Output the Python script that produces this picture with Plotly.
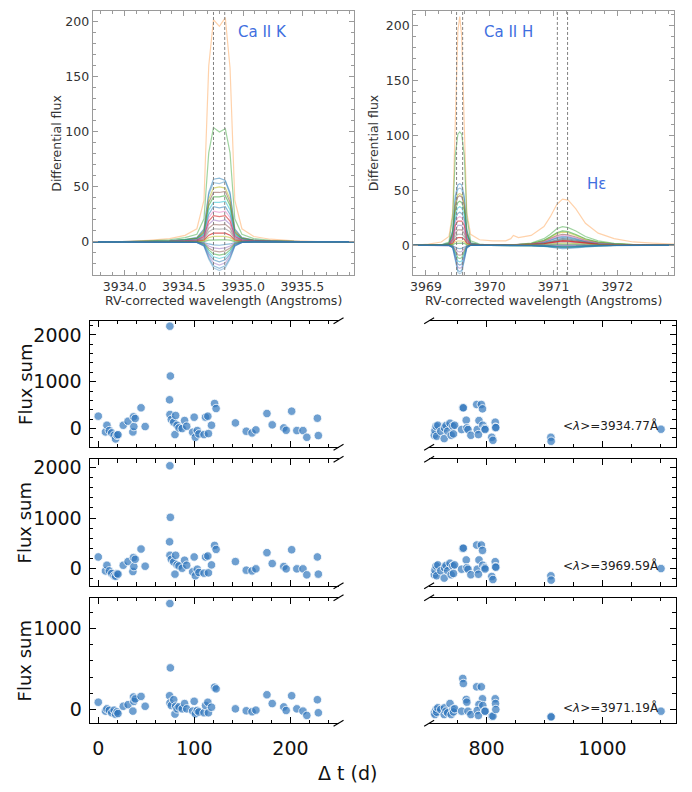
import plotly.graph_objects as go

W, H = 692, 792

# ---------------- spectra: Ca II K panel ----------------
k_wave = [3933.73, 3934.0, 3934.2, 3934.38, 3934.51, 3934.61, 3934.67, 3934.71, 3934.75, 3934.80,
          3934.85, 3934.89, 3934.93, 3934.99, 3935.09, 3935.23, 3935.43, 3935.63, 3935.94]
k_spectra = [
    [0, 0.3, 1.5, 3, 6, 12, 38, 160, 202, 196, 204, 158, 38, 12, 5, 2.5, 1, 0.3, 0],
    [0, 0, 1, 2, 4, 7, 21, 81, 104, 100, 103, 81, 21, 7, 3, 1.5, 0.5, 0, 0],
    [0, 0, 0.6, 1.2, 2.3, 4, 12, 45, 57, 58, 56, 45, 12, 4, 1.7, 0.9, 0.3, 0, 0],
    [0, 0, 0.5, 1, 2, 4, 11, 43, 54, 53, 55, 43, 11, 4, 1.6, 0.8, 0.3, 0, 0],
    [0, 0, 0.5, 1, 2, 3.5, 10, 39, 49, 50, 49, 39, 10, 3.5, 1.5, 0.7, 0.2, 0, 0],
    [0, 0, 0.5, 0.9, 1.8, 3.2, 9, 36, 45, 45, 46, 36, 9, 3.2, 1.4, 0.7, 0.2, 0, 0],
    [0, 0, 0.4, 0.8, 1.7, 3, 8, 33, 41, 41, 42, 33, 8, 3, 1.2, 0.6, 0.2, 0, 0],
    [0, 0, 0.4, 0.7, 1.5, 2.6, 7, 29, 36, 36, 37, 29, 7, 2.6, 1.1, 0.5, 0.2, 0, 0],
    [0, 0, 0.3, 0.6, 1.3, 2.2, 6, 25, 32, 31, 32, 25, 6, 2.2, 1, 0.5, 0.2, 0, 0],
    [0, 0, 0.3, 0.6, 1.1, 2, 5.6, 22, 28, 27, 28, 22, 5.6, 2, 0.8, 0.4, 0.1, 0, 0],
    [0, 0, 0.2, 0.5, 1, 1.7, 4.8, 19, 24, 23, 24, 19, 4.8, 1.7, 0.7, 0.4, 0.1, 0, 0],
    [0, 0, 0.2, 0.4, 0.8, 1.4, 4, 16, 20, 19, 20, 16, 4, 1.4, 0.6, 0.3, 0.1, 0, 0],
    [0, 0, 0.2, 0.3, 0.6, 1.1, 3.2, 12.5, 16, 15.5, 16, 12.5, 3.2, 1.1, 0.5, 0.2, 0, 0, 0],
    [0, 0, 0.1, 0.2, 0.5, 0.8, 2.4, 9.4, 12, 11.6, 12, 9.4, 2.4, 0.8, 0.4, 0.2, 0, 0, 0],
    [0, 0, 0.1, 0.2, 0.3, 0.6, 1.6, 6.2, 8, 7.8, 8, 6.2, 1.6, 0.6, 0.2, 0.1, 0, 0, 0],
    [0, 0, 0, 0.1, 0.2, 0.4, 1, 3.9, 5, 4.9, 5, 3.9, 1, 0.4, 0.2, 0, 0, 0, 0],
    [0, 0, 0, 0, 0.1, 0.1, 0.4, 1.6, 2, 1.9, 2, 1.6, 0.4, 0.1, 0, 0, 0, 0, 0],
    [0, 0, 0, 0, 0, 0, -0.5, -1.8, -2.7, -3, -2.7, -1.8, -0.5, 0, 0, 0, 0, 0, 0],
    [0, 0, 0, 0, 0, -0.1, -0.9, -3.6, -5.4, -6, -5.4, -3.6, -0.9, -0.1, 0, 0, 0, 0, 0],
    [0, 0, 0, 0, 0, -0.2, -1.4, -5.4, -8.1, -9, -8.1, -5.4, -1.4, -0.2, 0, 0, 0, 0, 0],
    [0, 0, 0, 0, 0, -0.2, -1.8, -7.2, -10.8, -12, -10.8, -7.2, -1.8, -0.2, 0, 0, 0, 0, 0],
    [0, 0, 0, 0, 0, -0.3, -2.3, -9, -13.5, -15, -13.5, -9, -2.3, -0.3, 0, 0, 0, 0, 0],
    [0, 0, 0, 0, 0, -0.4, -2.7, -10.8, -16.2, -18, -16.2, -10.8, -2.7, -0.4, 0, 0, 0, 0, 0],
    [0, 0, 0, 0, 0, -0.4, -3.2, -12.6, -18.9, -21, -18.9, -12.6, -3.2, -0.4, 0, 0, 0, 0, 0],
    [0, 0, 0, 0, 0, -0.5, -3.6, -14.4, -21.6, -24, -21.6, -14.4, -3.6, -0.5, 0, 0, 0, 0, 0],
    [0, 0, 0, 0, 0, -0.5, -3.9, -15.6, -23.4, -26, -23.4, -15.6, -3.9, -0.5, 0, 0, 0, 0, 0],
]
k_window = [3934.75, 3934.845]

# ---------------- spectra: Ca II H / H-epsilon panel ----------------
h_wave = [3968.80, 3969.04, 3969.24, 3969.36, 3969.42, 3969.46, 3969.50, 3969.53, 3969.56, 3969.60,
          3969.64, 3969.70, 3969.84, 3970.05, 3970.25, 3970.33, 3970.37, 3970.45, 3970.65, 3970.85,
          3970.95, 3971.05, 3971.14, 3971.23, 3971.35, 3971.50, 3971.70, 3971.95, 3972.25, 3972.55, 3972.89]
h_spectra = [
    [0, 1, 3, 8, 30, 110, 195, 208, 190, 110, 30, 10, 5, 4, 4, 6, 9, 7, 9, 17, 26, 37, 42, 41, 33, 20, 11, 6, 3, 2, 1],
    [0, 0, 0.5, 3, 26, 82, 101, 103, 101, 82, 26, 4, 1, 0, 0.3, 0.5, 0.7, 0.9, 2, 6, 10, 15, 17, 16, 13, 8, 4, 1.7, 0.7, 0.2, 0],
    [0, 0, 0.3, 1.7, 14, 45, 55, 56, 55, 45, 14, 2.2, 0.6, 0, 0.2, 0.2, 0.3, 0.4, 1, 2.8, 4.8, 7, 8, 7.6, 6, 3.6, 1.8, 0.8, 0.3, 0.1, 0],
    [0, 0, 0.3, 1.6, 13, 42, 51, 52, 51, 42, 13, 2, 0.5, 0, 0.1, 0.2, 0.2, 0.3, 0.7, 2.1, 3.6, 5.3, 6, 5.7, 4.5, 2.7, 1.3, 0.6, 0.2, 0.1, 0],
    [0, 0, 0.2, 1.4, 12, 38, 46, 47, 46, 38, 12, 1.9, 0.5, 0, 0.2, 0.4, 0.5, 0.6, 1.4, 4.2, 7.2, 10.6, 12, 11.4, 9, 5.4, 2.6, 1.2, 0.5, 0.1, 0],
    [0, 0, 0.2, 1.4, 11, 36, 44, 45, 44, 36, 11, 1.8, 0.5, 0, 0.2, 0.3, 0.4, 0.5, 1.2, 3.5, 6, 8.8, 10, 9.5, 7.5, 4.5, 2.2, 1, 0.4, 0.1, 0],
    [0, 0, 0.2, 1.2, 10, 32, 39, 40, 39, 32, 10, 1.6, 0.4, 0, 0.3, 0.4, 0.5, 0.7, 1.6, 4.6, 7.8, 11.4, 13, 12.4, 9.8, 5.9, 2.9, 1.3, 0.5, 0.1, 0],
    [0, 0, 0.2, 1, 9, 28, 34, 35, 34, 28, 9, 1.4, 0.4, 0, 0.1, 0.2, 0.2, 0.3, 0.6, 1.8, 3, 4.4, 5, 4.8, 3.8, 2.3, 1.1, 0.5, 0.2, 0, 0],
    [0, 0, 0.2, 0.9, 7.5, 24, 29, 30, 29, 24, 7.5, 1.2, 0.3, 0, 0.1, 0.2, 0.3, 0.4, 0.8, 2.5, 4.2, 6.2, 7, 6.7, 5.3, 3.2, 1.5, 0.7, 0.3, 0.1, 0],
    [0, 0, 0.1, 0.8, 6.5, 21, 25, 26, 25, 21, 6.5, 1, 0.3, 0, 0.2, 0.3, 0.4, 0.5, 1.1, 3.2, 5.4, 7.9, 9, 8.6, 6.8, 4, 2, 0.9, 0.4, 0.1, 0],
    [0, 0, 0.1, 0.7, 5.5, 18, 22, 22, 22, 18, 5.5, 0.9, 0.2, 0, 0.1, 0.1, 0.2, 0.2, 0.5, 1.4, 2.4, 3.5, 4, 3.8, 3, 1.8, 0.9, 0.4, 0.2, 0, 0],
    [0, 0, 0.1, 0.5, 4.5, 14, 18, 18, 18, 14, 4.5, 0.7, 0.2, 0, 0, 0.1, 0.1, 0.2, 0.4, 1, 1.8, 2.6, 3, 2.9, 2.3, 1.4, 0.7, 0.3, 0.1, 0, 0],
    [0, 0, 0.1, 0.4, 3.5, 11, 14, 14, 14, 11, 3.5, 0.6, 0.1, 0, 0.1, 0.2, 0.2, 0.3, 0.6, 1.8, 3, 4.4, 5, 4.8, 3.8, 2.3, 1.1, 0.5, 0.2, 0, 0],
    [0, 0, 0, 0.3, 2.5, 8, 10, 10, 10, 8, 2.5, 0.4, 0.1, 0, 0.1, 0.2, 0.2, 0.3, 0.7, 2.1, 3.6, 5.3, 6, 5.7, 4.5, 2.7, 1.3, 0.6, 0.2, 0.1, 0],
    [0, 0, 0, 0.2, 1.8, 5.6, 6.9, 7, 6.9, 5.6, 1.8, 0.3, 0.1, 0, 0.1, 0.1, 0.2, 0.2, 0.5, 1.4, 2.4, 3.5, 4, 3.8, 3, 1.8, 0.9, 0.4, 0.2, 0, 0],
    [0, 0, 0, 0.1, 1, 3.2, 3.9, 4, 3.9, 3.2, 1, 0.2, 0, 0, 0, 0.1, 0.1, 0.1, 0.2, 0.7, 1.2, 1.8, 2, 1.9, 1.5, 0.9, 0.4, 0.2, 0.1, 0, 0],
    [0, 0, 0, 0, 0.5, 1.6, 2, 2, 2, 1.6, 0.5, 0, 0, 0, 0, 0, 0, 0, 0.1, 0.4, 0.6, 0.9, 1, 1, 0.8, 0.5, 0.2, 0.1, 0, 0, 0],
    [0, 0, 0, 0, -0.3, -1.7, -2.9, -3, -2.9, -1.7, -0.3, 0, 0, 0, 0, 0, 0, 0, -0.1, -0.4, -0.6, -0.9, -1, -1, -0.8, -0.5, -0.2, -0.1, 0, 0, 0],
    [0, 0, 0, 0, -0.6, -3.3, -5.7, -6, -5.7, -3.3, -0.6, 0, 0, 0, 0, 0, 0, 0, 0, 0, 0, 0, 0, 0, 0, 0, 0, 0, 0, 0, 0],
    [0, 0, 0, 0, -0.9, -5, -8.6, -9, -8.6, -5, -0.9, 0, 0, 0, 0, -0.1, -0.1, -0.1, -0.2, -0.7, -1.2, -1.8, -2, -1.9, -1.5, -0.9, -0.4, -0.2, -0.1, 0, 0],
    [0, 0, 0, 0, -1.2, -6.6, -11.4, -12, -11.4, -6.6, -1.2, 0, 0, 0, 0, 0, 0, 0, -0.1, -0.4, -0.6, -0.9, -1, -1, -0.8, -0.5, -0.2, -0.1, 0, 0, 0],
    [0, 0, 0, 0, -1.5, -8.3, -14.3, -15, -14.3, -8.3, -1.5, 0, 0, 0, 0, -0.1, -0.1, -0.1, -0.2, -0.7, -1.2, -1.8, -2, -1.9, -1.5, -0.9, -0.4, -0.2, -0.1, 0, 0],
    [0, 0, 0, 0, -1.8, -9.9, -17.1, -18, -17.1, -9.9, -1.8, 0, 0, 0, -0.1, -0.1, -0.1, -0.2, -0.4, -1, -1.8, -2.6, -3, -2.9, -2.3, -1.4, -0.7, -0.3, -0.1, 0, 0],
    [0, 0, 0, 0, -2.1, -11.6, -20, -21, -20, -11.6, -2.1, 0, 0, 0, 0, 0, 0, 0, 0, 0, 0, 0, 0, 0, 0, 0, 0, 0, 0, 0, 0],
    [0, 0, 0, 0, -2.4, -13.2, -22.8, -24, -22.8, -13.2, -2.4, 0, 0, 0, 0, -0.1, -0.1, -0.1, -0.2, -0.7, -1.2, -1.8, -2, -1.9, -1.5, -0.9, -0.4, -0.2, -0.1, 0, 0],
    [0, 0, 0, 0, -2.6, -14.3, -24.7, -26, -24.7, -14.3, -2.6, 0, 0, 0, 0, 0, 0, 0, -0.1, -0.4, -0.6, -0.9, -1, -1, -0.8, -0.5, -0.2, -0.1, 0, 0, 0],
]
h_window = [3969.48, 3969.575, 3971.06, 3971.22]

spec_colors = [
    "rgba(255,127,14,0.35)", "rgba(44,160,44,0.45)", "rgba(31,119,180,0.5)", "rgba(31,119,180,0.4)",
    "rgba(188,189,34,0.55)", "rgba(140,86,75,0.55)", "rgba(44,160,44,0.55)", "rgba(23,190,207,0.5)",
    "rgba(31,119,180,0.5)", "rgba(227,119,194,0.5)", "rgba(214,39,40,0.6)", "rgba(148,103,189,0.5)",
    "rgba(140,86,75,0.5)", "rgba(127,127,127,0.5)", "rgba(214,39,40,0.7)", "rgba(188,189,34,0.5)",
    "rgba(44,160,44,0.5)", "rgba(31,119,180,0.5)", "rgba(148,103,189,0.5)", "rgba(140,86,75,0.5)",
    "rgba(44,160,44,0.5)", "rgba(23,190,207,0.5)", "rgba(31,119,180,0.5)", "rgba(148,103,189,0.45)",
    "rgba(31,119,180,0.45)", "rgba(31,119,180,0.35)",
]

# ---------------- flux sums vs time ----------------
dt_early = [0, 7.5, 9, 11.5, 14, 16.5, 18, 19.5, 20.5, 26, 31, 36, 36.6, 37, 38.4, 44.5, 48.8,
            74.5, 75, 74.2, 74.6, 76, 78.5, 79.8, 80.5, 82, 84, 87.3, 89.8, 92, 98.2, 99.8, 101,
            103, 104.7, 110, 111.6, 114, 114.6, 117.8, 121, 122.6, 142.7, 154, 160, 164, 175.5,
            181, 193, 195.5, 201.2, 206.6, 213, 217, 228, 229]
dt_late = [710, 711, 713, 714, 716, 721, 727, 727.5, 730, 733, 737, 739, 742, 743, 745, 759, 760,
           757, 765, 766, 768, 773, 783, 791, 793, 787, 784, 786, 793.5, 797, 797.5, 809, 811, 815,
           815.5, 816, 911, 911.5, 1101]

fluxK_early = [265, -71, 71, -43, -93, -143, -221, -143, -130, 71, 157, -71, 250, 43, 214, 443, 43,
               2185, 1121, 614, 300, 193, 136, -129, 279, 71, 14, 0, 171, 50, -79, 243, -186, -43,
               -114, -129, 243, 264, -107, 71, 535, 428, 121, -57, -93, -29, 321, 79, 14, -36, 371,
               -43, -43, -186, 221, -150]
fluxK_late = [-143, -43, 50, -164, 71, -57, -214, 14, 64, -57, 114, -143, 50, -114, 71, 443, 443,
              -21, 179, 14, -21, -143, 514, 514, 421, 171, -21, -129, 71, 0, -21, -186, -250, 136,
              29, 20, -186, -271, -14]

fluxH_early = [224, -53, 59, -53, -105, -151, -160, -105, -118, 59, 132, -66, 211, 33, 178, 382, 40,
               2040, 1013, 526, 257, 178, 125, -118, 257, 66, 46, 0, 158, 59, -72, 224, -151, -20,
               -85, -99, 224, 243, -92, 66, 454, 375, 132, -39, -53, -13, 309, 92, 33, -13, 368,
               -13, -13, -132, 224, -118]
fluxH_late = [-132, -40, 46, -150, 66, -50, -197, 10, 55, -50, 100, -130, 45, -105, 66, 395, 400,
              -20, 165, 10, -20, -130, 461, 461, 355, 165, -20, -120, 60, 10, -15, -165, -225, 130,
              30, 20, -151, -237, -7]

fluxHe_early = [90, -20, 8, -10, -40, -8, -60, -30, -50, 40, 60, -20, 154, 100, 130, 162, 40,
                1308, 514, 170, 81, 49, 121, -57, 40, 8, 32, 8, 73, 8, -20, 101, -53, -12, -30,
                -40, 49, 89, -40, 28, 275, 255, 8, -16, -28, -8, 182, 73, 32, -12, 170, 8, -20,
                -73, 121, -40]
fluxHe_late = [-41, -62, 0, -33, 21, 0, -62, 21, -21, -41, 74, -62, 0, -30, 10, 383, 321, -21, 124,
               91, -21, -62, 280, 280, 132, 62, -12, -74, 49, -21, -21, -82, -82, 132, 74, 0, -91,
               -91, -21]

mean_wavelengths = ["3934.77", "3969.59", "3971.19"]
line_labels = ["Ca II K", "Ca II H", "Hε"]

dt = dt_early + dt_late
flux_rows = [fluxK_early + fluxK_late, fluxH_early + fluxH_late, fluxHe_early + fluxHe_late]

# ---------------- figure ----------------
def fx(p):
    return p / W

def fy(p):
    return 1 - p / H

FONT = "DejaVu Sans"
fig = go.Figure()

for row, col in zip(k_spectra, spec_colors):
    fig.add_trace(go.Scatter(x=k_wave, y=row, mode="lines", line=dict(color=col, width=1.2),
                             xaxis="x", yaxis="y", showlegend=False, hoverinfo="skip"))
for row, col in zip(h_spectra, spec_colors):
    fig.add_trace(go.Scatter(x=h_wave, y=row, mode="lines", line=dict(color=col, width=1.2),
                             xaxis="x2", yaxis="y2", showlegend=False, hoverinfo="skip"))

marker = dict(color="rgba(48,118,188,0.7)", size=8.5, line=dict(color="white", width=0.8))
for i, vals in enumerate(flux_rows):
    for j in range(2):
        n = 3 + 2 * i + j
        fig.add_trace(go.Scatter(x=dt, y=vals, mode="markers", marker=marker,
                                 xaxis=f"x{n}", yaxis=f"y{n}", showlegend=False))

top_common = dict(showgrid=False, zeroline=False, showline=True, linecolor="#9a9a9a", linewidth=1,
                  mirror="allticks", ticks="inside", ticklen=5, tickcolor="#9a9a9a", tickwidth=1,
                  tickfont=dict(family=FONT, size=12.5, color="#333"))
top_y_dom = [fy(273), fy(8)]

layout = dict(
    width=W, height=H, margin=dict(l=0, r=0, t=0, b=0),
    paper_bgcolor="white", plot_bgcolor="white", showlegend=False,
    xaxis=dict(top_common, domain=[fx(90), fx(353)], range=[3933.73, 3935.94], tick0=3934.0,
               dtick=0.5, tickformat=".1f", anchor="y",
               minor=dict(dtick=0.1, ticks="inside", ticklen=3, tickcolor="#9a9a9a")),
    yaxis=dict(top_common, domain=top_y_dom, range=[-30, 210], dtick=50, anchor="x",
               minor=dict(dtick=10, ticks="inside", ticklen=3, tickcolor="#9a9a9a")),
    xaxis2=dict(top_common, domain=[fx(412), fx(674)], range=[3968.80, 3972.89], tick0=3969,
                dtick=1, anchor="y2",
                minor=dict(dtick=0.2, ticks="inside", ticklen=3, tickcolor="#9a9a9a")),
    yaxis2=dict(top_common, domain=top_y_dom, range=[-27, 213], dtick=50, anchor="x2",
                minor=dict(dtick=10, ticks="inside", ticklen=3, tickcolor="#9a9a9a")),
)

rows_px = [(319, 446), (458, 585), (597, 723)]
y_ranges = [[-400, 2300], [-350, 2170], [-170, 1380]]
left_dom = [fx(87), fx(337)]
right_dom = [fx(428), fx(676)]
bot_common = dict(showgrid=False, zeroline=False, showline=True, linecolor="black", linewidth=1.2,
                  ticks="inside", ticklen=6, tickcolor="black", tickwidth=1.1,
                  tickfont=dict(family=FONT, size=19, color="#111"))
for i, ((top, bot), yr) in enumerate(zip(rows_px, y_ranges)):
    nl, nr = 3 + 2 * i, 4 + 2 * i
    ydom = [fy(bot), fy(top)]
    last = (i == 2)
    layout[f"xaxis{nl}"] = dict(bot_common, domain=left_dom, range=[-9, 250], tick0=0, dtick=100,
                                mirror="allticks", anchor=f"y{nl}", showticklabels=last,
                                ticklabelstandoff=8,
                                minor=dict(dtick=20, ticks="inside", ticklen=3.5, tickcolor="black"))
    layout[f"xaxis{nr}"] = dict(bot_common, domain=right_dom, range=[701, 1127], tick0=0, dtick=200,
                                mirror="allticks", anchor=f"y{nr}", showticklabels=last,
                                ticklabelstandoff=8,
                                minor=dict(dtick=50, ticks="inside", ticklen=3.5, tickcolor="black"))
    layout[f"yaxis{nl}"] = dict(bot_common, domain=ydom, range=yr, tick0=0, dtick=1000,
                                anchor=f"x{nl}", ticklabelstandoff=3,
                                minor=dict(dtick=200, ticks="inside", ticklen=3.5, tickcolor="black"))
    layout[f"yaxis{nr}"] = dict(bot_common, domain=ydom, range=yr, tick0=0, dtick=1000,
                                anchor=f"x{nr}", side="right", showticklabels=False,
                                minor=dict(dtick=200, ticks="inside", ticklen=3.5, tickcolor="black"))

fig.update_layout(**layout)

# dashed integration windows
for xv in k_window:
    fig.add_shape(type="line", xref="x", yref="y domain", x0=xv, x1=xv, y0=0, y1=1,
                  line=dict(color="#808080", width=1, dash="3px,2px"))
for xv in h_window:
    fig.add_shape(type="line", xref="x2", yref="y2 domain", x0=xv, x1=xv, y0=0, y1=1,
                  line=dict(color="#808080", width=1, dash="3px,2px"))

# broken-axis marks
for top, bot in rows_px:
    for yy in (top, bot):
        for xc in (337, 428):
            fig.add_shape(type="line", xref="paper", yref="paper",
                          x0=fx(xc - 5), y0=fy(yy + 3), x1=fx(xc + 5), y1=fy(yy - 3),
                          line=dict(color="black", width=1.1))

ann = []
blue = "#3f6fe0"
ann.append(dict(text=line_labels[0], x=fx(261), y=fy(29), font=dict(family=FONT, size=15, color=blue)))
ann.append(dict(text=line_labels[1], x=fx(508), y=fy(29), font=dict(family=FONT, size=15, color=blue)))
ann.append(dict(text=line_labels[2], x=fx(596), y=fy(182), font=dict(family=FONT, size=15, color=blue)))
for xc in (54, 373):
    ann.append(dict(text="Differential flux", x=fx(xc), y=fy(140.5), textangle=-90,
                    font=dict(family=FONT, size=12.5, color="#333")))
for xc in (221.5, 543):
    ann.append(dict(text="RV-corrected wavelength (Angstroms)", x=fx(xc), y=fy(299),
                    font=dict(family=FONT, size=12.5, color="#333")))
lam_y = [424, 565, 707]
for (top, bot), wl, ly in zip(rows_px, mean_wavelengths, lam_y):
    ann.append(dict(text="Flux sum", x=fx(22), y=fy((top + bot) / 2), textangle=-90,
                    font=dict(family=FONT, size=18, color="#111")))
    ann.append(dict(text=f"&lt;<i>λ</i>&gt;={wl}Å", x=fx(661), y=fy(ly), xanchor="right",
                    font=dict(family=FONT, size=12, color="#222")))
ann.append(dict(text="Δ t (d)", x=fx(346), y=fy(773), font=dict(family=FONT, size=19, color="#111")))
for a in ann:
    a.setdefault("xanchor", "center")
    a.update(xref="paper", yref="paper", showarrow=False, yanchor="middle")
fig.update_layout(annotations=ann)

fig.write_html("out.html")
